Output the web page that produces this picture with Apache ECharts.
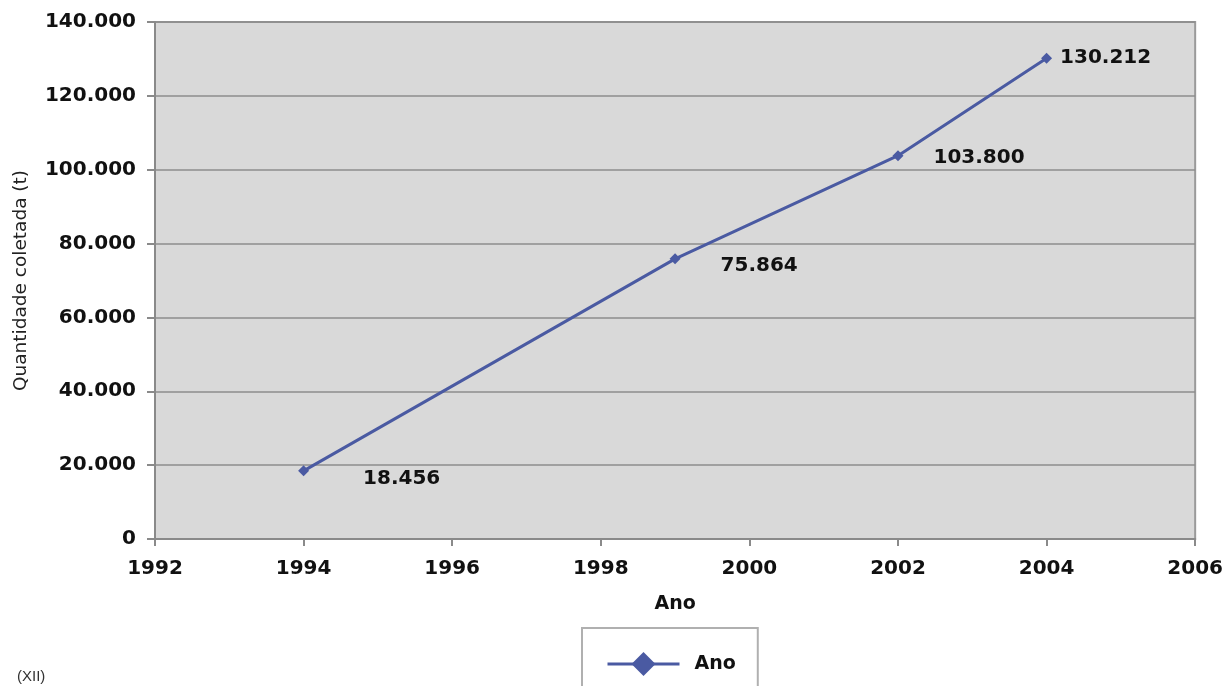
<!DOCTYPE html>
<html>
<head>
<meta charset="utf-8">
<script src="https://cdn.jsdelivr.net/npm/echarts@6/dist/echarts.min.js"></script>
<style>
  html, body { margin: 0; padding: 0; background: #ffffff; }
  #chart { width: 1226px; height: 686px; }
</style>
</head>
<body>
<div id="chart"></div>
<script>
// Quantidade coletada por ano
const years = [1994, 1999, 2002, 2004];
const quantities = [18456, 75864, 103800, 130212];
const seriesName = 'Ano';
const xTitle = 'Ano';
const yTitle = 'Quantidade coletada (t)';
const noteText = '(XII)';

// label offsets beside each point (pixels)
const labelOffsets = [[49, 8], [35, 7], [25, 2], [3, 0]];

function fmtThousands(v) {
  return String(Math.round(v)).replace(/\B(?=(\d{3})+(?!\d))/g, '.');
}

const FONT = 'DejaVu Sans';
const lineColor = '#4a5aa2';

const chart = echarts.init(document.getElementById('chart'), null, { renderer: 'canvas' });

chart.setOption({
  backgroundColor: '#ffffff',
  animation: false,
  grid: {
    left: 155, right: 28, top: 22, bottom: 147,
    show: true,
    backgroundColor: '#d9d9d9',
    borderColor: '#9a9a9a',
    borderWidth: 2
  },
  xAxis: {
    type: 'value',
    min: 1992, max: 2006, interval: 2,
    name: xTitle,
    nameLocation: 'middle',
    nameGap: 56,
    nameTextStyle: { fontFamily: FONT, fontWeight: 'bold', fontSize: 19, color: '#111' },
    axisLine: { show: true, lineStyle: { color: '#8a8a8a', width: 2 } },
    axisTick: { show: true, inside: false, length: 7, lineStyle: { color: '#8a8a8a', width: 2 } },
    axisLabel: {
      margin: 20,
      fontFamily: FONT, fontWeight: 'bold', fontSize: 20, color: '#111',
      formatter: v => String(v)
    },
    splitLine: { show: false }
  },
  yAxis: {
    type: 'value',
    min: 0, max: 140000, interval: 20000,
    name: yTitle,
    nameLocation: 'middle',
    nameGap: 124,
    nameRotate: 90,
    nameTextStyle: { fontFamily: FONT, fontSize: 18.5, color: '#222' },
    axisLine: { show: true, lineStyle: { color: '#8a8a8a', width: 2 } },
    axisTick: { show: true, inside: false, length: 8, lineStyle: { color: '#8a8a8a', width: 2 } },
    axisLabel: {
      margin: 19,
      fontFamily: FONT, fontWeight: 'bold', fontSize: 20, color: '#111',
      formatter: v => fmtThousands(v)
    },
    splitLine: { show: true, lineStyle: { color: '#8c8c8c', width: 1.5 } }
  },
  legend: {
    show: true,
    left: 582, top: 628,
    orient: 'horizontal',
    backgroundColor: '#ffffff',
    borderColor: '#b0b0b0',
    borderWidth: 2,
    borderRadius: 0,
    padding: [24, 22, 30, 24],
    itemWidth: 72,
    itemHeight: 30,
    itemGap: 10,
    lineStyle: { width: 3 },
    textStyle: {
      fontFamily: FONT, fontWeight: 'bold', fontSize: 19, color: '#111',
      padding: [0, 0, 0, 10]
    },
    data: [seriesName]
  },
  series: [{
    name: seriesName,
    type: 'line',
    data: years.map((y, i) => ({
      value: [y, quantities[i]],
      label: { offset: labelOffsets[i] }
    })),
    symbol: 'diamond',
    symbolSize: 11,
    lineStyle: { color: lineColor, width: 3 },
    itemStyle: { color: lineColor },
    label: {
      show: true,
      position: 'right',
      distance: 5,
      fontFamily: FONT, fontWeight: 'bold', fontSize: 20, color: '#111',
      formatter: p => fmtThousands(p.value[1])
    }
  }],
  graphic: [{
    type: 'text',
    left: 17, top: 669,
    style: { text: noteText, fontFamily: 'Liberation Sans', fontSize: 15, fill: '#333' }
  }]
});
</script>
</body>
</html>
